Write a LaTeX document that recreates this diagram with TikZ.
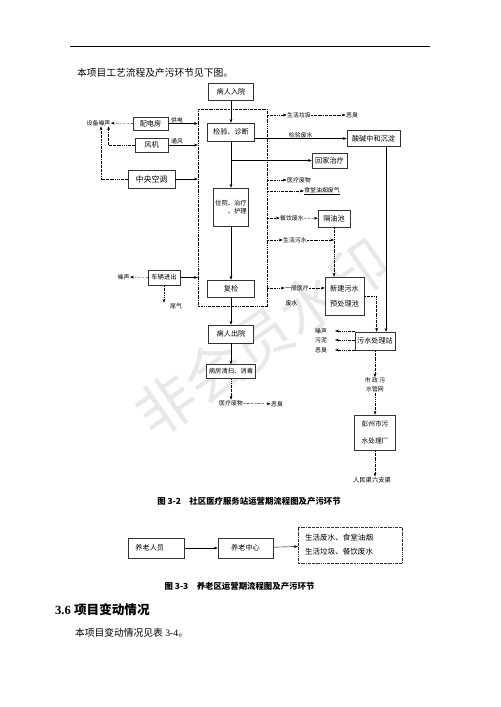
\documentclass[tikz,border=0pt]{standalone}
\usepackage{fontspec}
\setmainfont{Liberation Serif}
\newfontfamily\cjk{Noto Sans CJK SC}
\usetikzlibrary{arrows.meta}

\begin{document}
\begin{tikzpicture}[x=1.19pt, y=-1.19pt,
  proc/.style={draw=black!80, line width=0.6pt, align=center, inner sep=1pt, fill=white, font=\fontsize{8.5}{10}\cjk},
  lbl/.style={inner sep=0.5pt, align=center, font=\fontsize{7}{8.5}\cjk},
  sz/.style 2 args={minimum width=#1*1.19pt, minimum height=#2*1.19pt},
  arr/.style={-{Stealth[length=1.6mm,width=1.2mm]}, line width=0.5pt},
  darr/.style={arr, dash pattern=on 2pt off 1pt on 0.5pt off 1pt},
  zone/.style={draw, line width=0.5pt, dash pattern=on 2pt off 1pt on 0.5pt off 1pt}]
\useasboundingbox (0,0) rectangle (500,707);
\fill[white] (0,0) rectangle (500,707);
% watermark
\node[rotate=35, text=black!9, font=\fontsize{70}{70}\cjk] (wm) at (262,338) {非会员水印};
% page text
\draw[line width=0.8pt] (70,46) -- (430,46);
\node[anchor=west, inner sep=0, font=\fontsize{11.6}{14}\cjk] (intro) at (77,73) {本项目工艺流程及产污环节见下图。};

% main column
\node[zone, sz={69}{197}] (fr) at (232.5,207.5) {};
\node[proc, sz={45}{17}] (ry) at (231,92) {病人入院};
\node[proc, sz={47}{18}] (jy) at (231,132) {检验、诊断};
\node[proc, sz={35}{38}, align=right, font=\fontsize{7.5}{10}\cjk] (zy) at (231,207) {住院、治疗\\、护理};
\node[proc, sz={47}{17}] (fj) at (231,288.5) {复检};
\node[proc, sz={45}{18}] (cy) at (231,334) {病人出院};
\node[proc, sz={49}{14}, font=\fontsize{7.5}{9}\cjk] (qs) at (231,371.5) {病房清扫、消毒};
\node[lbl] (yf) at (231,403) {医疗废物};
\node[lbl] (ec3) at (277,404) {恶臭};
\draw[arr] (ry) -- (jy);
\draw[arr] (jy) -- (zy);
\draw[arr] (zy) -- (fj);
\draw[arr] (fj) -- (cy);
\draw[arr] (cy) -- (qs);
\draw[darr] (qs) -- (yf);
\draw[darr] (yf) -- (ec3);

% left side
\node[lbl] (zs) at (98.5,123) {设备噪声};
\node[proc, sz={35}{13}] (pd) at (150.5,123.5) {配电房};
\node[proc, sz={33}{14}] (fan) at (151.5,145) {风机};
\node[proc, sz={47}{18}, font=\fontsize{9.5}{11}\cjk] (kt) at (151.5,179) {中央空调};
\node[proc, sz={32}{15}, font=\fontsize{7.5}{9}\cjk] (cl) at (164,277.5) {车辆进出};
\node[lbl] (zs2) at (123.5,277) {噪声};
\node[lbl] (wq) at (176,306) {尾气};
\draw[arr] (pd) -- node[lbl, above, pos=0.3] (gd) {供电} (fr.west |- pd);
\draw[arr] (fan) -- node[lbl, above, pos=0.3] (tf) {通风} (fr.west |- fan);
\draw[arr] (kt) -- (fr.west |- kt);
\draw[arr] (cl) -- (fr.west |- cl);
\draw[darr] (pd) -- (zs);
\draw[darr] (fan.west) -| ([xshift=12pt]zs.south);
\draw[darr] (kt.west) -| ([xshift=3pt]zs.south);
\draw[darr] (cl) -- (zs2);
\draw[darr] (cl.south) -- (cl.south |- wq.north);

% right side
\node[lbl] (lj) at (299,115) {生活垃圾};
\node[lbl] (ec1) at (352,115) {恶臭};
\draw[darr] (fr.east |- lj) -- (lj);
\draw[darr] (lj) -- (ec1);
\node[proc, sz={53}{16}] (ph) at (373.5,138.5) {酸碱中和沉淀};
\draw[arr] (jy.east |- ph) -- node[lbl, above] (jf) {检验废水} (ph);
\node[proc, sz={35}{15}] (hj) at (329.5,160.5) {回家治疗};
\draw[arr] (jy.south |- hj) -- (hj);
\node[lbl] (yf1) at (299,180) {医疗废物};
\draw[darr] (fr.east |- yf1) -- (yf1);
\node[lbl] (st) at (322,191) {\underline{食堂油烟废气}};
\draw[darr] (fr.east |- st) -- (st);
\node[lbl] (cs) at (292,218) {餐饮废水};
\node[proc, sz={32}{17}] (gy) at (334,218.5) {隔油池};
\draw[darr] (fr.east |- cs) -- (cs);
\draw[darr] (cs) -- (gy);
\node[lbl] (sw) at (295,240) {生活污水};
\draw[darr] (fr.east |- sw) -- (sw);
\node[proc, sz={39}{38}, font=\fontsize{8.5}{18}\cjk] (xj) at (344.5,296) {新建污水\\预处理池};
\draw[darr] (gy.south) -- (gy.south |- xj.north);
\draw[darr] (sw) -- (sw -| gy.south);
\node[lbl] (yb) at (297,288) {一般医疗};
\node[lbl, anchor=west] (yb2) at (285,303) {废水};
\draw[darr] (fr.east |- yb) -- (yb);
\draw[darr] (yb) -- (xj.west |- yb);

% sewage station
\node[proc, sz={40}{18}] (wc) at (375,341) {污水处理站};
\coordinate (sx) at (386,0);
\draw[arr] (ph.south -| sx) -- (wc.north -| sx);
\draw[darr] (xj.east) -| ([xshift=2pt]wc.north);
\node[lbl] (zs3) at (321,331) {噪声};
\node[lbl] (wn) at (321,340) {污泥};
\node[lbl] (ec2) at (321,350) {恶臭};
\draw[darr] (wc.west |- zs3) -- ([xshift=9pt]zs3.east);
\draw[darr] (wc.west |- wn) -- ([xshift=9pt]wn.east);
\draw[darr] (wc.west |- ec2) -- ([xshift=9pt]ec2.east);
\node[lbl, font=\fontsize{7}{11}\cjk] (gw) at (375,385) {市\ 政\ 污\\水管网};
\draw[darr] (wc) -- (gw);
\node[proc, sz={41}{35}, font=\fontsize{8}{20}\cjk] (pz) at (375,432.5) {彭州市污\\水处理厂};
\draw[darr] (gw) -- (pz);
\node[lbl, font=\fontsize{7.5}{9}\cjk] (rm) at (372,480) {人民渠六支渠};
\draw[darr] (pz.south) -- (pz.south |- rm.north);

\node[font=\fontsize{10}{12}\cjk\bfseries] (cap1) at (249,501) {图 3-2\quad 社区医疗服务站运营期流程图及产污环节};

% elderly care
\node[proc, text width=50pt, inner xsep=8.5pt, align=left, minimum height=20*1.19pt] (yl) at (156.5,548) {养老人员};
\node[proc, sz={55}{20}] (yz) at (245.5,548) {养老中心};
\node[proc, zone, text width=107pt, inner xsep=8.3pt, align=left, minimum height=36*1.19pt, font=\fontsize{9}{16.7}\cjk] (wr) at (350,545) {生活废水、食堂油烟\\生活垃圾、餐饮废水};
\draw[arr] (yl) -- (yz);
\draw[arr] (yz) -- (wr);
\node[font=\fontsize{10}{12}\cjk\bfseries] (cap2) at (239.5,586) {图 3-3\quad 养老区运营期流程图及产污环节};

\node[anchor=west, inner sep=0, font=\fontsize{15}{18}\bfseries] (sec) at (55,610) {3.6 {\cjk 项目变动情况}};
\node[anchor=west, inner sep=0, font=\fontsize{11.6}{14}\selectfont] (txt2) at (75,633) {{\cjk 本项目变动情况见表} 3-4{\cjk 。}};
\end{tikzpicture}
\end{document}
